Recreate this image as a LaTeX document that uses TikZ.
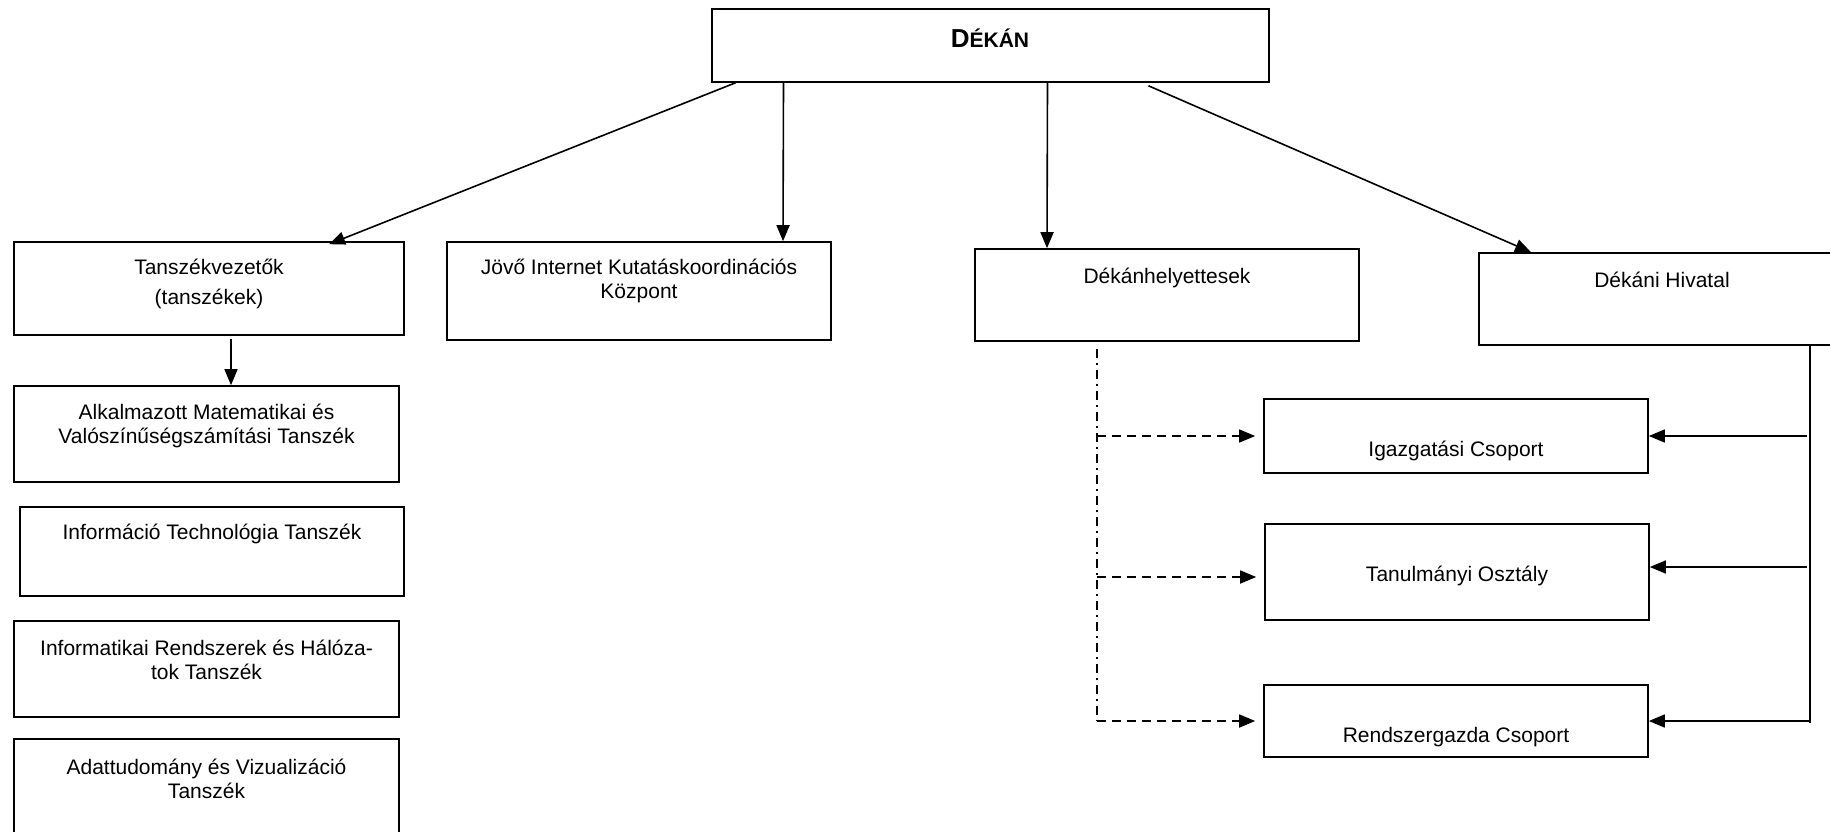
\documentclass[tikz,border=0pt]{standalone}
\usepackage{fontspec}
\setmainfont{Liberation Sans}
\usepackage{tikz}
\usetikzlibrary{arrows.meta}

\begin{document}
\begin{tikzpicture}[x=1pt,y=-1pt,
    box/.style={draw, line width=1.6pt, rectangle, inner sep=0pt},
    txt/.style={inner sep=0pt, align=center, font=\fontsize{21}{24}\selectfont},
    arr/.style={line width=1.6pt, -{Triangle[length=16pt,width=13pt]}},
    dasharr/.style={line width=1.6pt, dash pattern=on 9pt off 6pt, -{Triangle[length=16pt,width=13pt]}, shorten >=8pt},
    dotline/.style={line width=1.6pt, dash pattern=on 9pt off 5pt on 2pt off 5pt}]
              \clip (0,0) rectangle (1830,832);

              % boxes
              \node[box, minimum width=557pt, minimum height=73pt] at (990.5,45.5) (dekan) {};
              \node[box, minimum width=390pt, minimum height=93pt] at (209,288.5) (tv) {};
              \node[box, minimum width=384pt, minimum height=98pt] at (639,291) (jik) {};
              \node[box, minimum width=384pt, minimum height=92pt] at (1167,295) (dh) {};
              \node[box, minimum width=366pt, minimum height=92pt] at (1662,299) (hiv) {};
              \node[box, minimum width=385pt, minimum height=96pt] at (206.5,434) (alk) {};
              \node[box, minimum width=384pt, minimum height=89pt] at (212,551.5) (itt) {};
              \node[box, minimum width=385pt, minimum height=96pt] at (206.5,669) (irh) {};
              \node[box, minimum width=385pt, minimum height=106pt] at (206.5,792) (adv) {};
              \node[box, minimum width=384pt, minimum height=74pt] at (1456,436) (igc) {};
              \node[box, minimum width=384pt, minimum height=96pt] at (1457,572) (tan) {};
              \node[box, minimum width=384pt, minimum height=72pt] at (1456,721) (rcs) {};

              % texts
              \node[txt] at (990,38) (dekan-t) {\bfseries\fontsize{26}{30}\selectfont D\fontsize{21}{30}\selectfont ÉKÁN};
              \node[txt] at (209,283.5) (tv-t) {Tanszékvezetők\\[6pt](tanszékek)};
              \node[txt] at (639,280.5) (jik-t) {Jövő Internet Kutatáskoordinációs\\Központ};
              \node[txt] at (1167,277.5) (dh-t) {Dékánhelyettesek};
              \node[txt] at (1662,279.5) (hiv-t) {Dékáni Hivatal};
              \node[txt] at (206.5,426) (alk-t) {Alkalmazott Matematikai és\\Valószínűségszámítási Tanszék};
              \node[txt] at (212,533.5) (itt-t) {Információ Technológia Tanszék};
              \node[txt] at (206.5,660) (irh-t) {Informatikai Rendszerek és Hálóza-\\tok Tanszék};
              \node[txt] at (206.5,779) (adv-t) {Adattudomány és Vizualizáció\\Tanszék};
              \node[txt] at (1456,450.5) (igc-t) {Igazgatási Csoport};
              \node[txt] at (1457,575.5) (tan-t) {Tanulmányi Osztály};
              \node[txt] at (1456,737.5) (rcs-t) {Rendszergazda Csoport};

              % helper points
              \coordinate (dhtop) at ([xshift=-70pt,yshift=-7pt]dh.south);
              \coordinate (dhbot) at ([xshift=-70pt]dh.south |- rcs.west);
              \coordinate (hivtop) at ([xshift=148pt]hiv.south);
              \coordinate (hivbot) at ([xshift=148pt,yshift=-2pt]hiv.south |- rcs.east);

              \draw[arr] ([xshift=-255pt]dekan.south) -- ([xshift=120pt,yshift=-3pt]tv.north);
              \draw[arr] ([xshift=-207pt]dekan.south) -- ([xshift=144pt]jik.north);
              \draw[arr] ([xshift=57pt]dekan.south) -- ([xshift=-120pt]dh.north);
              \draw[arr] ([xshift=158pt,yshift=-3pt]dekan.south) -- ([xshift=-131pt]hiv.north);
              \draw[arr] ([xshift=22pt,yshift=-3pt]tv.south) -- ([xshift=24.5pt]alk.north);

              \draw[dotline] (dhtop) -- (dhbot);
              \draw[dasharr] (igc.west -| dhtop) -- (igc.west);
              \draw[dasharr] ([yshift=-5pt]tan.west -| dhtop) -- ([yshift=-5pt]tan.west);
              \draw[dasharr] (dhbot) -- (rcs.west);

              \draw[line width=1.6pt] (hivtop) -- (hivbot);
              \draw[arr] ([xshift=-3pt]igc.east -| hivtop) -- (igc.east);
              \draw[arr] ([xshift=-3pt,yshift=5pt]tan.east -| hivtop) -- ([yshift=5pt]tan.east);
              \draw[arr] (rcs.east -| hivtop) -- (rcs.east);
            \end{tikzpicture}
\end{document}
